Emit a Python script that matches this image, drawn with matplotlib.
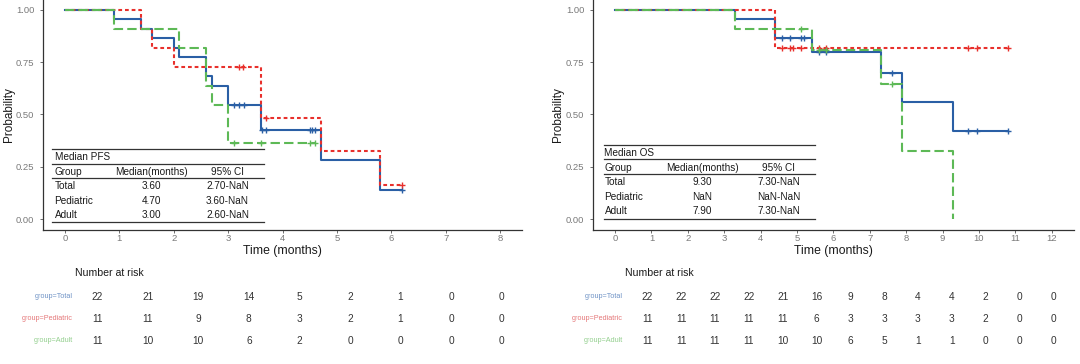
import matplotlib
matplotlib.use("Agg")
import matplotlib.pyplot as plt
import numpy as np
from matplotlib.lines import Line2D
from matplotlib import transforms

plt.rcParams["font.family"] = ["Liberation Sans", "DejaVu Sans"]

W, H = 1080, 364

groups = ["Total", "Pediatric", "Adult"]
colors = {"Total": "#2A5FA5", "Pediatric": "#E8302C", "Adult": "#5DB956"}
label_colors = {"Total": "#6F93C6", "Pediatric": "#E5787A", "Adult": "#93CF8E"}
styles = {"Total": "-", "Pediatric": (0, (1.8, 1.4)), "Adult": (0, (4.5, 2.0))}

# ---- PFS (left) ----
pfs_times = {
    "Total": [0, 0.9, 1.4, 1.6, 2.0, 2.1, 2.6, 2.7, 3.0, 3.6, 4.7, 5.8],
    "Pediatric": [0, 1.4, 1.6, 2.0, 3.6, 4.7, 5.8],
    "Adult": [0, 0.9, 2.1, 2.6, 2.7, 3.0],
}
pfs_surv = {
    "Total": [1, 0.955, 0.909, 0.864, 0.818, 0.773, 0.682, 0.636, 0.545, 0.424, 0.283, 0.141],
    "Pediatric": [1, 0.909, 0.818, 0.727, 0.485, 0.323, 0.162],
    "Adult": [1, 0.909, 0.818, 0.636, 0.545, 0.364],
}
pfs_end = {"Total": 6.2, "Pediatric": 6.2, "Adult": 4.6}
pfs_censor = {
    "Total": [3.1, 3.2, 3.3, 3.62, 3.7, 4.5, 4.55, 4.6, 6.2],
    "Pediatric": [3.2, 3.27, 3.7, 6.2],
    "Adult": [3.1, 3.6, 4.5, 4.6],
}
pfs_risk_times = [0, 1, 2, 3, 4, 5, 6, 7, 8]
pfs_risk = {
    "Total": [22, 21, 19, 14, 5, 2, 1, 0, 0],
    "Pediatric": [11, 11, 9, 8, 3, 2, 1, 0, 0],
    "Adult": [11, 10, 10, 6, 2, 0, 0, 0, 0],
}
pfs_median = {"Total": ("3.60", "2.70-NaN"), "Pediatric": ("4.70", "3.60-NaN"), "Adult": ("3.00", "2.60-NaN")}

# ---- OS (right) ----
os_times = {
    "Total": [0, 3.3, 4.4, 5.4, 7.3, 7.9, 9.3],
    "Pediatric": [0, 4.4],
    "Adult": [0, 3.3, 5.4, 7.3, 7.9, 9.3],
}
os_surv = {
    "Total": [1, 0.955, 0.864, 0.80, 0.70, 0.56, 0.42],
    "Pediatric": [1, 0.818],
    "Adult": [1, 0.909, 0.808, 0.646, 0.323, 0.0],
}
os_end = {"Total": 10.8, "Pediatric": 10.8, "Adult": 9.3}
os_censor = {
    "Total": [4.6, 4.8, 5.1, 5.2, 5.6, 5.8, 7.6, 9.7, 9.95, 10.8],
    "Pediatric": [4.6, 4.8, 4.9, 5.1, 5.6, 5.8, 9.7, 9.95, 10.8],
    "Adult": [5.1, 5.6, 5.8, 7.6],
}
os_risk_times = [0, 1, 2, 3, 4, 5, 6, 7, 8, 9, 10, 11, 12]
os_risk = {
    "Total": [22, 22, 22, 22, 21, 16, 9, 8, 4, 4, 2, 0, 0],
    "Pediatric": [11, 11, 11, 11, 11, 6, 3, 3, 3, 3, 2, 0, 0],
    "Adult": [11, 11, 11, 11, 10, 10, 6, 5, 1, 1, 0, 0, 0],
}
os_median = {"Total": ("9.30", "7.30-NaN"), "Pediatric": ("NaN", "NaN-NaN"), "Adult": ("7.90", "7.30-NaN")}

fig = plt.figure(figsize=(W / 100, H / 100), dpi=100)


def px_axes(x0, y0, x1, y1):
    return fig.add_axes([x0 / W, 1 - y1 / H, (x1 - x0) / W, (y1 - y0) / H])


def ftext(x, y, s, **kw):
    fig.text(x / W, 1 - y / H, s, va="center", fontsize=7.2, color="#1a1a1a", **kw)


def fline(x0, x1, y):
    fig.add_artist(Line2D([x0 / W, x1 / W], [1 - y / H, 1 - y / H], color="#333333", lw=0.9))


def km_panel(ax, times, surv, ends, censors, xmax):
    for g in groups:
        t = list(times[g]) + [ends[g]]
        s = list(surv[g]) + [surv[g][-1]]
        ax.step(t, s, where="post", color=colors[g], lw=1.5, linestyle=styles[g], zorder=3)
        idx = np.searchsorted(times[g], censors[g], side="right") - 1
        cy = np.array(surv[g])[idx]
        ax.plot(censors[g], cy, "+", color=colors[g], ms=5, mew=1.0, zorder=4)
    ax.set_xlim(-0.05 * xmax, 1.05 * xmax)
    ax.set_ylim(-0.0502, 1.0478)
    ax.set_xticks(range(0, xmax + 1))
    ax.set_yticks([0, 0.25, 0.5, 0.75, 1.0])
    ax.set_yticklabels(["0.00", "0.25", "0.50", "0.75", "1.00"])
    for sp in ["top", "right"]:
        ax.spines[sp].set_visible(False)
    for sp in ["left", "bottom"]:
        ax.spines[sp].set_color("#333333")
        ax.spines[sp].set_linewidth(0.9)
    ax.tick_params(length=2, width=0.6, color="#555555", labelsize=6.8, labelcolor="#7a7a7a")
    ax.tick_params(axis="x", pad=0.9)
    ax.tick_params(axis="y", pad=4.5)
    ax.set_xlabel("Time (months)", fontsize=8.8, color="#1a1a1a")
    ax.set_ylabel("Probability", fontsize=8.5, color="#1a1a1a")


def risk_panel(ax, rtimes, risk, xmax):
    ax.set_xlim(-0.05 * xmax, 1.05 * xmax)
    ax.set_ylim(3.5, 0.5)
    ax.axis("off")
    tr = transforms.blended_transform_factory(ax.transAxes, ax.transData)
    for i, g in enumerate(groups):
        for t, n in zip(rtimes, risk[g]):
            ax.text(t, i + 1, str(n), ha="center", va="center", fontsize=7.3, color="#333333")
        ax.text(-0.01, i + 1, "group=" + g, transform=tr, ha="right", va="center",
                fontsize=5.2, color=label_colors[g])
    ax.text(-0.005, 1 + 13 / 66, "Number at risk", transform=ax.transAxes,
            ha="left", va="center", fontsize=7.6, color="#1a1a1a")


def median_table(x0, x1, xcols, ylines, yrows, title, med):
    for y in ylines:
        fline(x0, x1, y)
    ftext(xcols[0], yrows[0], title)
    ftext(xcols[0], yrows[1], "Group")
    ftext(xcols[1], yrows[1], "Median(months)", ha="center")
    ftext(xcols[2], yrows[1], "95% CI", ha="center")
    for i, g in enumerate(groups):
        ftext(xcols[0], yrows[2 + i], g)
        ftext(xcols[1], yrows[2 + i], med[g][0], ha="center")
        ftext(xcols[2], yrows[2 + i], med[g][1], ha="center")


# left
axL = px_axes(43.2, 0, 521.8, 229.5)
km_panel(axL, pfs_times, pfs_surv, pfs_end, pfs_censor, 8)
axL.yaxis.set_label_coords(-0.059, 0.5)
axL.xaxis.set_label_coords(0.5, -0.094)
axL.xaxis.label.set_va("center")
median_table(51.7, 263.8, [54.5, 151.7, 227.6], [149, 164, 178, 222],
             [157, 172, 186, 201, 215], "Median PFS", pfs_median)

rkL = px_axes(77, 286, 521.8, 352)
risk_panel(rkL, pfs_risk_times, pfs_risk, 8)

# right
axR = px_axes(593.2, 0, 1073.5, 229.5)
km_panel(axR, os_times, os_surv, os_end, os_censor, 12)
axR.yaxis.set_label_coords(-0.061, 0.5)
axR.xaxis.set_label_coords(0.5, -0.094)
axR.xaxis.label.set_va("center")
median_table(603.8, 814.8, [604.5, 702, 779], [145, 159, 174, 219],
             [153, 168, 182, 197, 211], "Median OS", os_median)

rkR = px_axes(627, 286, 1073.5, 352)
risk_panel(rkR, os_risk_times, os_risk, 12)

fig.savefig("out.png", dpi=100, facecolor="white")
